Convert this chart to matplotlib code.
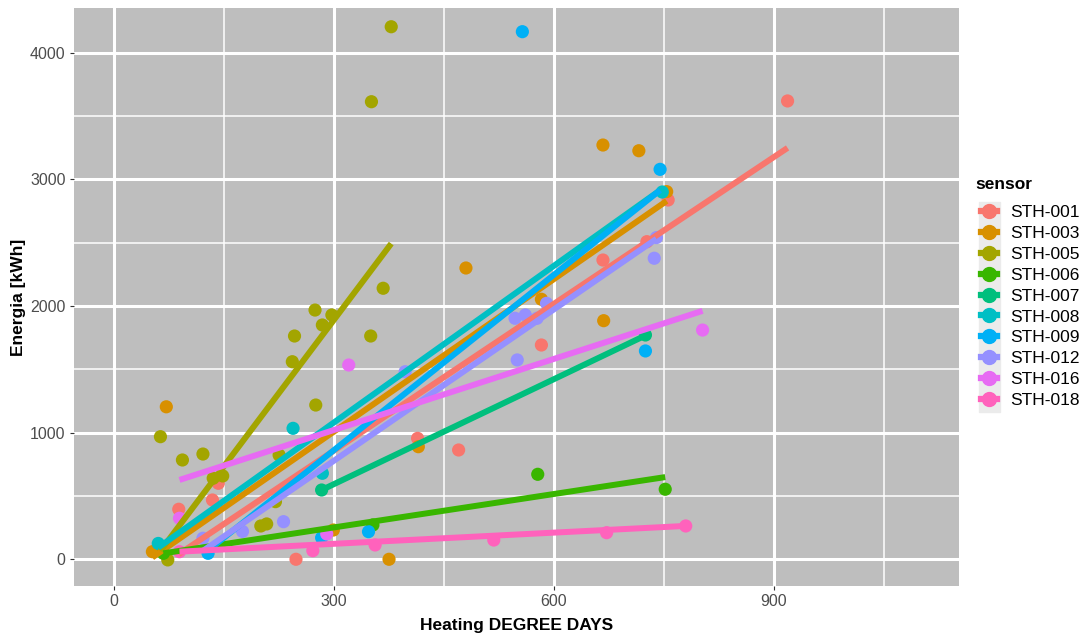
import matplotlib.pyplot as plt
import numpy as np
from matplotlib.lines import Line2D
from matplotlib.patches import Rectangle

plt.rcParams["font.family"] = ["Liberation Sans", "DejaVu Sans"]

# Sensor names and ggplot hue colours
sensors = ["STH-001", "STH-003", "STH-005", "STH-006", "STH-007",
           "STH-008", "STH-009", "STH-012", "STH-016", "STH-018"]
colors = ["#F8766D", "#D89000", "#A3A500", "#39B600", "#00BF7D",
          "#00BFC4", "#00B0F6", "#9590FF", "#E76BF3", "#FF62BC"]

# Heating degree days / energy per sensor
hdd_001 = [88, 134, 142, 248, 414, 470, 583, 667, 727, 756, 919]
kwh_001 = [395, 468, 600, 0, 955, 863, 1692, 2363, 2508, 2837, 3619]
hdd_003 = [52, 71, 299, 375, 415, 480, 583, 667, 668, 716, 754]
kwh_003 = [60, 1204, 231, 0, 889, 2300, 2053, 3271, 1884, 3226, 2903]
hdd_005 = [63, 73, 93, 121, 135, 148, 200, 208, 220, 225, 243, 246,
           274, 275, 284, 297, 350, 351, 367, 378]
kwh_005 = [968, -5, 784, 831, 640, 658, 263, 279, 455, 823, 1560, 1763,
           1968, 1218, 1850, 1929, 1763, 3613, 2140, 4205]
hdd_006 = [67, 353, 578, 752]
kwh_006 = [47, 271, 671, 553]
hdd_007 = [283, 725]
kwh_007 = [547, 1771]
hdd_008 = [60, 244, 284, 748]
kwh_008 = [125, 1034, 679, 2900]
hdd_009 = [128, 283, 347, 557, 725, 745]
kwh_009 = [47, 170, 218, 4166, 1645, 3079]
hdd_012 = [121, 175, 231, 397, 547, 550, 561, 577, 590, 737, 740]
kwh_012 = [166, 220, 297, 1481, 1903, 1574, 1929, 1903, 2021, 2377, 2540]
hdd_016 = [89, 290, 320, 803]
kwh_016 = [324, 200, 1534, 1810]
hdd_018 = [89, 271, 356, 518, 672, 780]
kwh_018 = [60, 68, 113, 152, 210, 263]

hdd = [hdd_001, hdd_003, hdd_005, hdd_006, hdd_007,
       hdd_008, hdd_009, hdd_012, hdd_016, hdd_018]
kwh = [kwh_001, kwh_003, kwh_005, kwh_006, kwh_007,
       kwh_008, kwh_009, kwh_012, kwh_016, kwh_018]

# Linear fit per sensor (intercept, slope) as seen in the picture
fit_intercept = [-299, -194, -418, -12, -234, -155, -520, -415, 460, 34]
fit_slope = [3.86, 4.01, 7.70, 0.879, 2.76, 4.12, 4.61, 3.98, 1.87, 0.294]

fig = plt.figure(figsize=(10.82, 6.35), dpi=100)
ax = fig.add_axes([74 / 1082, 1 - 586 / 635, 885 / 1082, 578 / 635])

ax.set_facecolor("#BEBEBE")
for s in ax.spines.values():
    s.set_visible(False)

# Points first, regression lines on top
for x, y, c in zip(hdd, kwh, colors):
    ax.scatter(x, y, s=90, color=c, edgecolors="none", zorder=3)

for x, a, b, c in zip(hdd, fit_intercept, fit_slope, colors):
    xs = np.array([min(x), max(x)])
    ax.plot(xs, a + b * xs, color=c, lw=4.3, solid_capstyle="butt", zorder=4)

ax.set_xlim(-55, 1153)
ax.set_ylim(-211, 4353)
ax.set_xticks([0, 300, 600, 900])
ax.set_yticks([0, 1000, 2000, 3000, 4000])
ax.set_xticks([150, 450, 750, 1050], minor=True)
ax.set_yticks([500, 1500, 2500, 3500], minor=True)
ax.grid(which="major", color="white", lw=2.2, zorder=1)
ax.grid(which="minor", color="white", lw=1.1, zorder=1)
ax.set_axisbelow(True)
ax.tick_params(which="major", length=3, color="#333333", labelsize=11.5,
               labelcolor="#4D4D4D", pad=3)
ax.tick_params(which="minor", length=0)

ax.set_xlabel("Heating DEGREE DAYS", fontsize=12.5, fontweight="bold", labelpad=6)
ax.set_ylabel("Energia [kWh]", fontsize=12.5, fontweight="bold", labelpad=3)

# Legend: grey key column, title as separate text
fig.patches.append(Rectangle((979 / 1082, 1 - 412 / 635), 21 / 1082, 210 / 635,
                             transform=fig.transFigure, color="#EBEBEB", zorder=0))
fig.text(975 / 1082, 1 - 185 / 635, "sensor", fontsize=12.5, fontweight="bold",
         va="center", ha="left")
handles = [Line2D([0], [0], color=c, lw=4.5, marker="o", markersize=10)
           for c in colors]
leg = fig.legend(handles, sensors, loc="upper left",
                 bbox_to_anchor=(981 / 1082, 1 - 205 / 635), frameon=False,
                 fontsize=12.5, handlelength=0.95, handletextpad=0.75,
                 labelspacing=0.33, borderaxespad=0, borderpad=0)

fig.savefig("out.png", dpi=100)
